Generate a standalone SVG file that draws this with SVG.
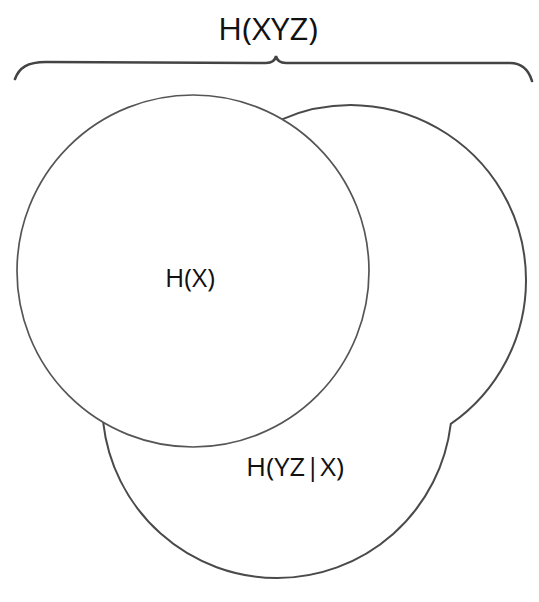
<svg xmlns="http://www.w3.org/2000/svg" width="539" height="602" viewBox="0 0 539 602">
  <style>
    .lbl { font-family: "Open Sans", "Noto Sans", sans-serif; fill: #111; text-anchor: middle; }
    .outline { fill: none; stroke: #4a4a4a; stroke-width: 2; stroke-linejoin: miter; }
    .circ { fill: none; stroke: #555; stroke-width: 1.7; }
    .brace { fill: none; stroke: #444; stroke-width: 2.6; stroke-linecap: round; }
  </style>
  <rect width="539" height="602" fill="#fff"/>
  <g id="brace-HXYZ">
    <path class="brace" d="M15,79 C19,68 27,62 46,62 L266,63 C272,63 275,61 276,56 C277,61 280,63 286,63 L510,63 C523,63 529,71 532,81"/>
    <text class="lbl" x="268" y="40" font-size="31" textLength="100" lengthAdjust="spacingAndGlyphs">H(XYZ)</text>
  </g>
  <g id="node-HYZgivenX">
    <path class="outline" d="M282,119.3 A175,175 0 0 1 526,280 A175,175 0 0 1 450.8,423.9 A175,175 0 0 1 277,578 A175,175 0 0 1 103.2,422.3"/>
    <text class="lbl" x="295" y="476" font-size="25" textLength="98" lengthAdjust="spacingAndGlyphs">H(YZ|X)</text>
  </g>
  <g id="node-HX">
    <circle class="circ" cx="193" cy="271" r="176"/>
    <text class="lbl" x="190" y="287" font-size="25" textLength="50" lengthAdjust="spacingAndGlyphs">H(X)</text>
  </g>
  <g id="connectors"/>
</svg>
